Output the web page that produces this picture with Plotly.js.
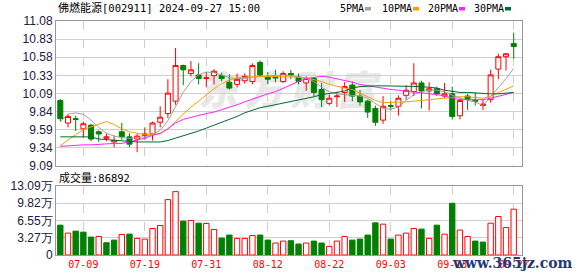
<!DOCTYPE html>
<html><head><meta charset="utf-8">
<script src="https://cdn.plot.ly/plotly-3.0.1.min.js"></script>
<style>
html,body{margin:0;padding:0;background:#fff;}
#wrap{position:relative;width:578px;height:276px;overflow:hidden;}
#wm{position:absolute;left:198px;top:66px;font-family:"Noto Sans CJK SC";font-weight:900;font-style:italic;font-size:40px;color:#e8e8e8;letter-spacing:6px;line-height:44px;white-space:nowrap;}
#chart{position:absolute;left:0;top:0;width:578px;height:276px;}
</style></head>
<body><div id="wrap"><div id="wm">东方财富</div><div id="chart"></div></div>
<script>
const dates = ["07-04","07-05","07-08","07-09","07-10","07-11","07-12","07-15","07-16","07-17","07-18","07-19","07-22","07-23","07-24","07-25","07-26","07-29","07-30","07-31",
"08-01","08-02","08-05","08-06","08-07","08-08","08-09","08-12","08-13","08-14","08-15","08-16","08-19","08-20","08-21","08-22","08-23","08-26","08-27","08-28","08-29","08-30",
"09-02","09-03","09-04","09-05","09-06","09-09","09-10","09-11","09-12","09-13","09-18","09-19","09-20","09-23","09-24","09-25","09-26","09-27"];
const openP  = [9.99,9.68,9.74,9.60,9.65,9.56,9.47,9.42,9.56,9.49,9.46,9.51,9.53,9.69,9.81,9.98,10.47,10.36,10.34,10.29,10.33,10.33,10.24,10.21,10.26,10.25,10.51,10.31,10.31,10.25,10.36,10.31,10.23,10.29,10.14,9.95,10.04,10.10,10.20,10.05,9.98,9.88,9.72,9.92,9.91,10.06,10.11,10.23,10.12,10.15,10.05,10.08,9.78,10.05,9.99,9.92,10.00,10.42,10.59,10.77];
const highP  = [10.01,9.80,9.78,9.70,9.67,9.58,9.54,9.51,9.68,9.54,9.53,9.62,9.70,9.91,10.28,10.71,10.48,10.53,10.50,10.38,10.42,10.37,10.35,10.36,10.36,10.50,10.54,10.38,10.41,10.39,10.41,10.36,10.32,10.31,10.23,10.07,10.11,10.24,10.25,10.13,10.00,9.92,10.05,9.98,10.06,10.20,10.50,10.26,10.24,10.18,10.23,10.18,10.02,10.08,10.09,10.00,10.41,10.63,10.64,10.92];
const lowP   = [9.70,9.62,9.57,9.48,9.43,9.42,9.43,9.35,9.45,9.35,9.28,9.45,9.44,9.62,9.75,9.93,10.20,10.32,10.21,10.17,10.21,10.25,10.14,10.17,10.22,10.21,10.31,10.21,10.24,10.23,10.28,10.21,10.12,10.05,9.90,9.92,9.90,9.97,9.98,9.92,9.75,9.64,9.67,9.85,9.78,10.00,10.05,9.88,9.85,10.05,10.02,9.73,9.73,9.86,9.92,9.86,9.96,10.28,10.40,10.56];
const closeP = [9.74,9.77,9.73,9.67,9.46,9.53,9.49,9.44,9.49,9.39,9.50,9.53,9.68,9.76,10.09,10.47,10.41,10.41,10.29,10.30,10.39,10.29,10.16,10.28,10.32,10.47,10.34,10.28,10.30,10.36,10.34,10.25,10.29,10.10,10.00,10.02,10.05,10.18,10.05,9.97,9.83,9.69,9.91,9.91,10.02,10.13,10.23,10.12,10.15,10.08,10.08,9.77,9.99,10.01,9.98,9.94,10.34,10.59,10.63,10.73];
const ma5  = [9.70,9.80,9.82,9.80,9.72,9.62,9.54,9.50,9.48,9.47,9.48,9.49,9.52,9.58,9.71,9.91,10.10,10.25,10.34,10.38,10.37,10.34,10.30,10.29,10.29,10.31,10.32,10.33,10.34,10.34,10.33,10.31,10.29,10.25,10.17,10.11,10.08,10.07,10.06,10.05,10.02,9.95,9.88,9.87,9.90,9.99,10.07,10.11,10.13,10.13,10.11,10.06,10.02,9.99,9.97,9.92,10.04,10.16,10.29,10.43];
const ma10 = [9.37,9.45,9.52,9.59,9.63,9.67,9.70,9.66,9.60,9.56,9.54,9.52,9.52,9.53,9.60,9.70,9.80,9.90,9.98,10.07,10.15,10.22,10.27,10.30,10.31,10.32,10.32,10.32,10.32,10.32,10.32,10.31,10.30,10.28,10.25,10.21,10.18,10.16,10.14,10.09,10.04,9.99,9.96,9.96,9.96,9.97,9.98,9.99,10.00,10.01,10.03,10.04,10.04,10.04,10.03,10.02,10.05,10.10,10.15,10.19];
const ma20 = [9.36,9.37,9.37,9.38,9.38,9.39,9.39,9.40,9.40,9.42,9.44,9.47,9.51,9.54,9.60,9.68,9.73,9.76,9.79,9.81,9.83,9.86,9.89,9.93,9.97,10.01,10.04,10.08,10.11,10.16,10.20,10.25,10.29,10.31,10.32,10.31,10.29,10.26,10.24,10.21,10.19,10.17,10.15,10.14,10.13,10.12,10.11,10.09,10.08,10.07,10.05,10.02,10.00,10.00,10.00,10.00,10.02,10.05,10.08,10.10];
const ma30 = [9.49,9.49,9.49,9.49,9.49,9.46,9.45,9.44,9.43,9.42,9.42,9.42,9.42,9.42,9.44,9.47,9.51,9.54,9.57,9.61,9.65,9.69,9.72,9.77,9.82,9.86,9.89,9.91,9.93,9.95,9.97,10.00,10.02,10.04,10.07,10.08,10.10,10.12,10.16,10.18,10.19,10.19,10.19,10.19,10.19,10.18,10.18,10.18,10.17,10.16,10.13,10.11,10.10,10.10,10.09,10.08,10.08,10.08,10.09,10.10];
const volume = [5.66,4.15,4.53,4.34,3.40,3.52,2.33,2.83,3.90,3.96,3.15,3.02,5.03,5.60,10.51,12.02,6.42,6.55,6.04,5.98,4.85,3.21,3.78,3.15,3.15,3.71,3.78,2.83,2.27,2.64,2.71,2.08,2.27,2.64,2.27,1.64,2.64,3.52,2.83,3.02,3.78,6.10,5.85,3.02,3.78,4.15,5.03,4.91,3.15,5.66,3.96,9.82,4.72,3.52,2.64,2.45,6.04,7.30,5.22,8.69];
const volUp = [0,1,0,0,0,1,0,0,1,0,1,1,1,1,1,1,0,1,0,1,1,0,0,1,1,1,0,0,1,1,0,0,1,0,0,1,1,1,0,0,0,0,1,0,1,1,1,0,1,0,1,0,1,1,0,0,1,1,1,1];
const xTickDates = ["07-09","07-19","07-31","08-12","08-22","09-03","09-13","09-27"];
const priceTickText = ["9.09","9.34","9.59","9.84","10.09","10.33","10.58","10.83","11.08"];
const volTickText = ["0","3.27万","6.55万","9.82万","13.09万"];
const priceMin = 9.09, priceMax = 11.08, volMax = 13.09;

const RED = '#ff0000', GREEN = '#008000';
const priceTickVals = priceTickText.map((t,k)=> priceMin + k*(priceMax-priceMin)/8);
const volTickVals = volTickText.map((t,k)=> k*volMax/4);

// pixel -> paper helpers (plot area: x 56..522, y 21..255)
const W=578,H=276,L=56,R=56,T=21,B=21;
const pw=W-L-R, ph=H-T-B;
const px = x => (x-L)/pw;
const py = y => (H-B-y)/ph;

const traces = [
  {type:'candlestick', x:dates, open:openP, high:highP, low:lowP, close:closeP,
   xaxis:'x', yaxis:'y', whiskerwidth:0,
   increasing:{line:{color:RED,width:1}, fillcolor:'#ffffff'},
   decreasing:{line:{color:GREEN,width:1}, fillcolor:GREEN}, hoverinfo:'skip'},
  {type:'scatter', mode:'lines', x:dates, y:ma5, line:{color:'#a0a0a0',width:1}, xaxis:'x', yaxis:'y', hoverinfo:'skip'},
  {type:'scatter', mode:'lines', x:dates, y:ma10, line:{color:'#f5a000',width:1}, xaxis:'x', yaxis:'y', hoverinfo:'skip'},
  {type:'scatter', mode:'lines', x:dates, y:ma20, line:{color:'#ff22ff',width:1}, xaxis:'x', yaxis:'y', hoverinfo:'skip'},
  {type:'scatter', mode:'lines', x:dates, y:ma30, line:{color:'#006b2e',width:1}, xaxis:'x', yaxis:'y', hoverinfo:'skip'},
  {type:'bar', x:dates, y:volume, xaxis:'x2', yaxis:'y2', hoverinfo:'skip',
   marker:{color:volUp.map(u=>u?'#ffffff':GREEN), line:{color:volUp.map(u=>u?RED:GREEN), width:1}}}
];

const gridC = '#cfcfcf', borderC = '#999999';
const tickFont = {family:'Liberation Sans, Arial, sans-serif', size:12, color:'#202040'};
const xCommon = {type:'category', range:[-0.56,60.08], tickvals:xTickDates, ticktext:xTickDates,
  showgrid:true, gridcolor:gridC, griddash:'dash', gridwidth:1, showline:true, mirror:true,
  linecolor:borderC, linewidth:1, zeroline:false, ticks:'', fixedrange:true};

const legendItems = [
  {t:'5PMA', x:338, sx:365, c:'#a0a0a0'},
  {t:'10PMA', x:380, sx:413, c:'#f5a000'},
  {t:'20PMA', x:426, sx:459, c:'#ff22ff'},
  {t:'30PMA', x:472, sx:505, c:'#006b2e'}
];

const annotations = [
  {xref:'paper', yref:'paper', x:px(56), y:py(7.5), xanchor:'left', yanchor:'middle', showarrow:false,
   text:'<span style="font-family:Noto Sans CJK SC;font-size:11px">佛燃能源</span>[002911] 2024-09-27 15:00',
   font:{family:'DejaVu Sans Mono, monospace', size:10.5, color:'#000'}},
  {xref:'paper', yref:'paper', x:px(57), y:py(177), xanchor:'left', yanchor:'middle', showarrow:false,
   text:'<span style="font-family:Noto Sans CJK SC;font-size:11px">成交量</span>:86892',
   font:{family:'DejaVu Sans Mono, monospace', size:10.5, color:'#000'}},
  {xref:'paper', yref:'paper', x:px(512), y:py(263), xanchor:'center', yanchor:'middle', showarrow:false,
   text:'<b>www.365jz.com</b>', font:{family:'DejaVu Serif, serif', size:14, color:'#1f3a78'}}
].concat(legendItems.map(it=>({xref:'paper', yref:'paper', x:px(it.x), y:py(8.5), xanchor:'left', yanchor:'middle',
   showarrow:false, text:it.t, font:{family:'DejaVu Sans Mono, monospace', size:10, color:'#000'}})));

const shapes = legendItems.map(it=>({type:'rect', xref:'paper', yref:'paper',
  x0:px(it.sx), x1:px(it.sx+6), y0:py(10.5), y1:py(7), fillcolor:it.c, line:{width:0}}));

const layout = {
  width:W, height:H, margin:{l:L,r:R,t:T,b:B,pad:0},
  paper_bgcolor:'rgba(0,0,0,0)', plot_bgcolor:'rgba(0,0,0,0)',
  showlegend:false, boxgap:0.35, boxgroupgap:0, bargap:0.3,
  xaxis: Object.assign({}, xCommon, {anchor:'y', showticklabels:false, rangeslider:{visible:false}}),
  xaxis2: Object.assign({}, xCommon, {anchor:'y2', showticklabels:true,
     tickfont:{family:'DejaVu Sans Mono, monospace', size:10, color:RED}}),
  yaxis: {domain:[py(166),1], range:[priceMin,priceMax], tickvals:priceTickVals, ticktext:priceTickText,
     showgrid:true, gridcolor:gridC, gridwidth:1, showline:true, mirror:true, linecolor:borderC, linewidth:1,
     zeroline:false, ticks:'', tickfont:tickFont, fixedrange:true},
  yaxis2: {domain:[0,py(186)], range:[0,volMax], tickvals:volTickVals, ticktext:volTickText,
     showgrid:true, gridcolor:gridC, gridwidth:1, showline:true, mirror:true, linecolor:borderC, linewidth:1,
     zeroline:false, ticks:'', tickfont:tickFont, fixedrange:true},
  annotations: annotations, shapes: shapes
};

Plotly.newPlot('chart', traces, layout, {staticPlot:true, displayModeBar:false});
</script>
</body></html>
